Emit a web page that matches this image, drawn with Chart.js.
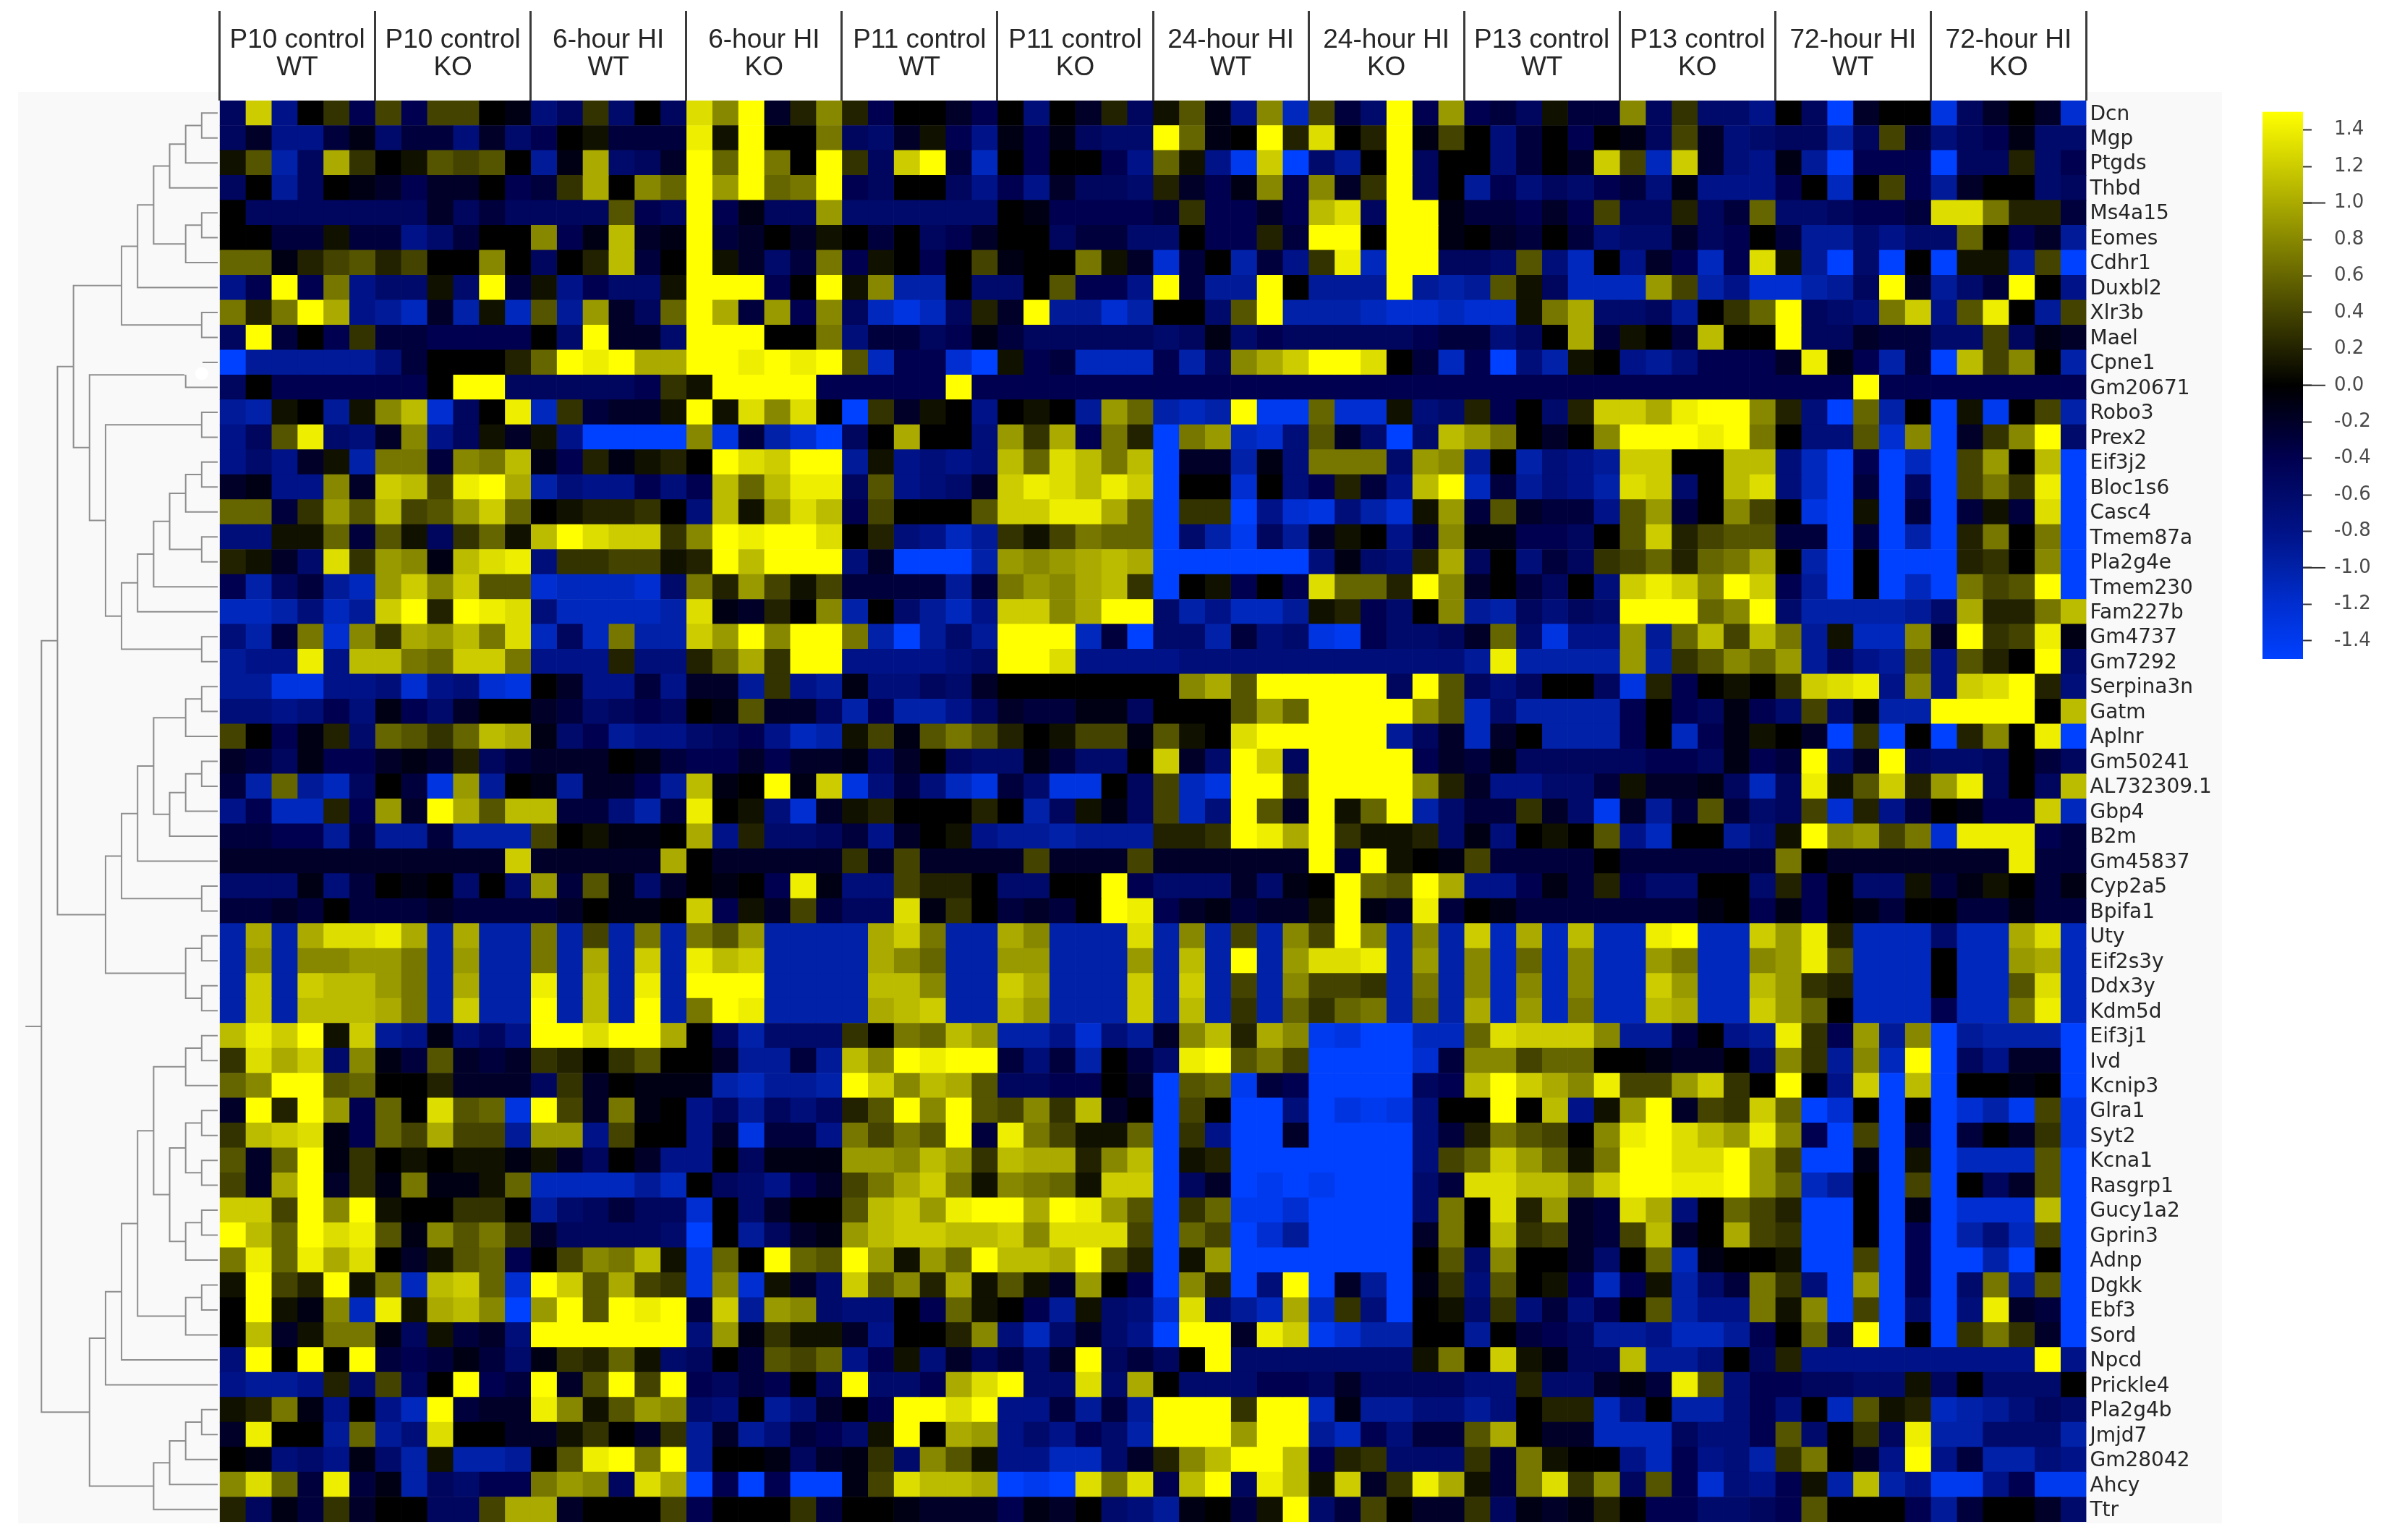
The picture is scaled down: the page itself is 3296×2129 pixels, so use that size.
<!DOCTYPE html>
<html>
<head>
<meta charset="utf-8">
<title>Heatmap</title>
<script src="https://cdn.jsdelivr.net/npm/chart.js@4"></script>
<style>
  html, body { margin: 0; background: #fff; }
  body { position: relative; width: 3296px; height: 2129px; overflow: hidden; }
  canvas, .box { position: absolute; }
  canvas { filter: blur(0.7px); }
  #panel { left: 25px; top: 127px; width: 3047px; height: 1979px; background: #f9f9f9; }
  #headerBack { left: 303px; top: 127px; width: 2582px; height: 12px; background: #fff; }
  #dendro { left: 0; top: 0; }
  #heat { left: 0; top: 0; }
  #scale { left: 3128px; top: 0; }
</style>
</head>
<body>
<div class="box" id="panel"></div>
<div class="box" id="headerBack"></div>
<canvas id="dendro" width="310" height="2129"></canvas>
<canvas id="heat" width="3296" height="2129"></canvas>
<canvas id="scale" width="168" height="1000"></canvas>
<script>
const groupNames = ['P10 control', 'P10 control', '6-hour HI', '6-hour HI', 'P11 control', 'P11 control', '24-hour HI', '24-hour HI', 'P13 control', 'P13 control', '72-hour HI', '72-hour HI'];
const groupTypes = ['WT', 'KO', 'WT', 'KO', 'WT', 'KO', 'WT', 'KO', 'WT', 'KO', 'WT', 'KO'];
const genes = ['Dcn', 'Mgp', 'Ptgds', 'Thbd', 'Ms4a15', 'Eomes', 'Cdhr1', 'Duxbl2', 'Xlr3b', 'Mael', 'Cpne1', 'Gm20671', 'Robo3', 'Prex2', 'Eif3j2', 'Bloc1s6', 'Casc4', 'Tmem87a', 'Pla2g4e', 'Tmem230', 'Fam227b', 'Gm4737', 'Gm7292', 'Serpina3n', 'Gatm', 'Aplnr', 'Gm50241', 'AL732309.1', 'Gbp4', 'B2m', 'Gm45837', 'Cyp2a5', 'Bpifa1', 'Uty', 'Eif2s3y', 'Ddx3y', 'Kdm5d', 'Eif3j1', 'Ivd', 'Kcnip3', 'Glra1', 'Syt2', 'Kcna1', 'Rasgrp1', 'Gucy1a2', 'Gprin3', 'Adnp', 'Dgkk', 'Ebf3', 'Sord', 'Npcd', 'Prickle4', 'Pla2g4b', 'Jmjd7', 'Gm28042', 'Ahcy', 'Ttr'];
const scaleTicks = [-1.4, -1.2, -1.0, -0.8, -0.6, -0.4, -0.2, 0, 0.2, 0.4, 0.6, 0.8, 1.0, 1.2, 1.4];
const scaleMajor = [-1.0, 0, 1.0];
const colourValues = [-1.5, -1.2, -1.0, -0.8, -0.6, -0.4, -0.2, 0, 1.5];
const colourRgb = [[0, 64, 255], [0, 46, 208], [0, 33, 168], [0, 18, 135], [0, 10, 106], [0, 0, 80], [0, 0, 40], [0, 0, 0], [255, 255, 0]];

// cell values, z-score x 10, one list per gene, 72 columns
const Dcn = [-5,12,-8,0,3,-4, 4,-4,4,4,0,-1, -7,-5,3,-6,0,-5, 13,8,15,-2,2,8, 2,-4,0,0,-2,-4, 0,-7,0,-2,2,-5, 1,5,-1,-8,8,-11, 4,-3,-6,15,-4,9, -4,-3,-5,1,-3,-3, 8,-5,3,-6,-6,-8, 0,-5,-15,-2,0,0, -13,-5,-2,0,-2,-12];
const Mgp = [-5,-2,-8,-8,-3,-1, -6,-3,-3,-7,-2,-6, -4,0,1,-3,-3,-3, 14,1,15,0,0,7, -5,-6,-2,1,-4,-8, -1,-4,-1,-5,-6,-6, 15,6,-1,0,15,2, 13,0,2,15,-1,4, 0,-7,-3,0,-4,0, -1,-5,4,-2,-7,-6, -5,-5,-10,-5,4,-3, -7,-5,-4,-1,-6,-6];
const Ptgds = [1,5,-10,-5,10,3, 0,1,5,4,5,0, -9,-1,10,-6,-5,-2, 15,6,15,7,0,15, 3,-5,12,15,-3,-11, 0,-4,0,0,-4,-8, 6,1,-8,-14,12,-15, -6,-9,0,15,-5,0, 0,-7,-3,0,-2,12, 4,-11,12,-2,-7,-8, -1,-9,-15,-4,-4,-4, -15,-5,-5,2,-6,-4];
const Thbd = [-5,0,-9,-5,0,-1, -2,-4,-2,-2,0,-4, -3,3,10,0,8,6, 15,9,15,6,7,15, -4,-5,0,0,-5,-8, -4,-8,-2,-5,-5,-6, 2,-2,-4,-1,8,-4, 8,-2,3,15,-5,0, -9,-4,-7,-5,-6,-4, -3,-7,-1,-8,-8,-8, -4,0,-11,0,4,-4, -9,-2,0,0,-6,-5];
const Ms4a15 = [0,-5,-5,-5,-5,-5, -5,-5,-2,-5,-3,-5, -5,-5,-5,5,-4,-5, 15,-4,-1,-5,-5,9, -6,-6,-6,-6,-6,-6, 0,-1,-4,-4,-4,-4, -3,3,-4,-4,-2,-4, 11,13,-5,15,15,-1, -3,-3,-4,-2,-4,4, -5,-5,2,-5,-3,6, -6,-6,-5,-4,-4,-3, 13,13,7,2,2,-3];
const Eomes = [0,0,-3,-3,1,-3, -3,-8,-6,-3,0,0, 8,-4,-1,11,-2,-1, 15,-3,-2,0,-2,1, 0,-3,0,-5,-4,-2, 0,0,-5,-3,-3,-6, -6,0,-4,-4,2,-3, 15,15,0,15,15,-1, 0,-2,-3,0,-3,-7, -6,-6,-2,-5,-4,0, -3,-9,-9,-6,-8,-6, -6,6,0,-4,-2,-9];
const Cdhr1 = [6,6,-1,2,4,5, 2,4,0,0,8,0, -5,0,2,11,-3,0, 15,1,-2,-6,-3,7, -4,1,0,-4,0,4, -1,0,0,7,1,-2, -12,-3,0,-10,-3,-8, 3,14,-11,15,15,-5, -5,-6,5,-7,-11,0, -8,-2,-4,-11,-4,13, 1,-9,-15,-6,-15,0, -15,1,1,-9,4,-15];
const Duxbl2 = [-8,-4,15,-4,7,-8, -6,-6,1,-6,15,-3, 1,-8,-4,-6,-6,1, 15,15,15,-4,0,15, 1,8,-10,-10,0,-6, -6,0,5,-4,-4,-8, 15,-3,-9,-9,15,0, -9,-9,-9,15,-9,-10, -9,5,1,-5,-11,-11, -11,9,4,-10,-8,-12, -12,-10,-9,-5,15,-2, -9,-6,-3,15,0,-8];
const Xlr3b = [7,2,7,15,10,-8, -9,-11,-2,-10,1,-11, 5,-9,9,-2,-5,6, 15,10,-3,9,-4,8, -5,-11,-13,-11,-5,2, -2,15,-9,-9,-12,-10, 0,0,-6,5,15,-10, -10,-10,-11,-12,-12,-11, -12,-12,1,7,10,-6, -6,-5,-9,0,3,6, 15,-5,-6,-7,7,12, -8,5,14,0,-9,4];
const Mael = [-5,15,-3,0,-4,3, -3,-3,-4,-4,-4,-4, 0,-6,15,-2,-2,-6, 15,15,15,0,0,7, -7,-3,-3,-5,-4,-1, -3,-5,-5,-5,-5,-5, -6,-5,-1,-6,-4,-5, -5,-5,-5,-5,-4,-3, -3,-7,-5,0,10,-3, 1,0,-3,11,0,0, 15,-5,-5,-2,-3,-3, -6,-6,4,-5,-1,-2];
const Cpne1 = [-15,-9,-9,-9,-9,-9, -7,-3,0,0,0,2, 6,15,14,15,10,10, 15,15,14,15,14,15, 5,-11,-4,-4,-12,-15, 1,-4,-3,-11,-11,-11, -4,-10,-5,8,10,12, 15,15,13,0,-3,-11, -4,-15,-7,-10,1,0, -8,-9,-7,-4,-4,-4, -2,14,-1,-4,-10,-3, -15,11,4,8,0,-10];
const Gm20671 = [-5,0,-4,-4,-4,-4, -4,-4,0,15,15,-5, -5,-5,-5,-5,-4,3, 1,15,15,15,15,-4, -4,-4,-4,-4,15,-4, -4,-4,-4,-4,-4,-4, -4,-4,-4,-4,-4,-4, -4,-4,-4,-4,-4,-4, -4,-4,-4,-4,-4,-4, -4,-4,-4,-4,-4,-4, -4,-4,-4,15,-4,-4, -4,-4,-4,-4,-4,-4];
const Robo3 = [-9,-10,1,0,-9,1, 8,11,-12,-5,0,14, -11,3,-3,-2,-2,1, 15,1,13,8,13,0, -15,3,-2,1,0,-8, 0,1,0,-9,9,6, -10,-11,-10,15,-14,-14, 6,-12,-12,1,-7,-6, 2,-4,0,-6,2,12, 12,10,14,15,15,8, 2,-7,-15,6,-10,0, -15,1,-14,0,4,-10];
const Prex2 = [-8,-5,5,14,-6,-7, -2,8,-8,-5,1,-2, 1,-8,-15,-15,-15,-15, 8,-13,-3,-10,-12,-15, -5,0,10,0,0,-7, 9,3,10,-4,7,2, -15,7,9,-11,-12,-7, 5,-2,-6,-15,-6,11, 9,7,0,-2,0,8, 15,15,15,14,15,7, 0,-7,-7,5,-12,8, -15,-2,3,8,15,-6];
const Eif3j2 = [-8,-6,-8,-2,1,-10, 7,7,-3,8,7,11, -1,-4,2,-1,1,2, 0,15,13,12,15,15, -9,1,-8,-7,-8,-7, 11,6,13,11,7,11, -15,-2,-2,-10,-1,-7, 7,7,7,-6,9,8, -9,0,-10,-7,-8,-9, 12,12,0,0,11,11, -7,-11,-15,-4,-15,-11, -15,4,9,0,11,-15];
const Bloc1s6 = [-2,-1,-8,-8,8,-2, 12,11,4,14,15,10, -10,-7,-8,-8,-4,-7, -4,11,6,11,14,14, -5,5,-8,-7,-6,-2, 12,14,13,11,14,12, -15,0,0,-12,0,-7, -4,2,-3,-8,11,15, -11,-3,-9,-7,-8,-10, 13,12,-6,0,11,13, -7,-11,-15,-3,-15,-5, -15,4,7,3,14,-15];
const Casc4 = [6,6,-3,3,9,5, 11,4,5,9,12,6, 0,1,2,2,3,0, -7,11,1,9,13,11, -4,4,0,0,0,5, 12,12,14,14,10,6, -15,3,3,-15,-8,-12, -13,-7,-10,-12,1,9, -3,5,-2,-3,-3,-8, 5,9,-3,0,8,4, 0,-13,-15,1,-15,-3, -15,-3,1,-3,13,-15];
const Tmem87a = [-7,-7,1,1,6,-3, 5,1,-5,3,6,1, 11,15,13,12,12,3, 8,15,14,15,15,13, 0,2,-7,-8,-11,-9, 3,1,4,7,6,6, -15,-6,-10,-14,-5,-9, -2,1,0,-8,-3,8, -1,-1,-4,-4,-5,0, 5,12,2,4,5,5, -3,-3,-15,-3,-15,-10, -15,2,7,0,7,-15];
const Pla2g4e = [2,1,-2,-6,13,3, 9,8,-1,11,13,14, -7,3,3,4,4,1, 2,15,11,15,15,15, -7,-2,-15,-15,-15,-10, 9,8,9,10,11,10, -15,-15,-15,-15,-15,-15, -7,-1,-6,-7,2,10, -5,0,-7,-3,-5,3, 4,6,2,6,7,10, 0,-10,-15,0,-15,-15, -15,2,3,0,8,-15];
const Tmem230 = [-4,-10,-5,-3,-9,-11, 9,12,8,12,5,5, -12,-11,-11,-11,-12,-6, 7,2,9,4,1,4, -3,-3,-3,-3,-9,-3, 7,9,8,10,11,3, -15,0,1,-4,0,-4, 13,6,6,2,15,8, -2,0,-3,-5,0,-7, 12,14,12,8,15,12, -4,-9,-15,0,-15,-11, -15,7,4,5,15,-15];
const Fam227b = [-11,-11,-10,-7,-11,-9, 12,15,2,15,14,13, -7,-11,-11,-11,-11,-10, 13,-1,-2,2,0,8, -10,0,-6,-9,-11,-8, 12,12,8,10,15,15, -6,-10,-8,-11,-11,-9, 1,2,-4,-6,0,8, -9,-10,-5,-7,-5,-6, 15,15,15,6,8,15, -6,-10,-10,-10,-10,-9, -6,10,2,2,7,11];
const Gm4737 = [-7,-10,-3,7,-12,8, 3,10,9,11,7,13, -11,-5,-11,7,-10,-10, 12,9,15,8,15,15, 7,-10,-15,-9,-6,-9, 15,15,15,-11,-3,-15, -6,-6,-10,-3,-7,-6, -13,-14,-4,-6,-6,-5, -2,6,-6,-13,-8,-8, 9,-9,6,11,4,11, 7,-9,1,-11,-11,8, -2,15,3,4,14,-1];
const Gm7292 = [-9,-8,-8,14,-8,11, 11,7,6,12,12,7, -8,-8,-8,2,-7,-7, 2,6,10,3,15,15, -8,-8,-8,-8,-7,-6, 15,15,13,-8,-8,-8, -8,-7,-7,-7,-7,-7, -7,-7,-7,-7,-7,-7, -9,14,-10,-10,-10,-10, 9,-10,3,5,8,6, 9,-9,-5,-8,-9,5, -8,5,2,0,15,-6];
const Serpina3n = [-9,-9,-13,-13,-8,-8, -7,-12,-8,-7,-12,-13, 0,-2,-8,-8,-3,-8, -2,-2,-9,3,-8,-9, -1,-7,-7,-5,-6,-2, 0,0,0,0,0,0, 0,8,10,5,15,15, 15,15,15,-5,15,5, -5,-7,-5,0,0,-5, -13,2,-4,0,1,0, 3,12,13,14,-8,8, -8,12,13,15,2,-7];
const Gatm = [-7,-7,-8,-7,-4,-7, -1,-4,-6,-2,0,0, -2,-3,-6,-5,-4,-5, 0,-1,5,-2,-2,-5, -10,-4,-10,-10,-8,-5, -2,-3,-3,-1,-1,-5, 0,0,0,5,9,6, 15,15,15,15,8,5, -11,-6,-10,-10,-10,-10, -4,0,-4,-5,-1,-4, -6,4,-6,-1,-10,-10, 15,15,15,15,0,11];
const Aplnr = [4,0,-4,-1,2,-6, 6,5,3,6,11,10, -1,-6,-4,-9,-8,-8, -6,-5,-4,-8,-11,-10, 1,4,-1,5,7,5, 2,0,1,4,4,-1, 5,1,0,13,15,15, 15,15,15,-9,-5,-2, -11,-2,0,-10,-10,-10, -4,0,-11,-4,-1,1, 0,-2,-15,3,-15,0, -15,2,8,0,14,-15];
const Gm50241 = [-2,-3,-5,-1,-4,-4, -2,-1,-2,2,-5,-3, -2,-2,-2,0,-1,-3, -4,-4,-2,-4,-2,-2, -1,-5,-2,0,-5,-6, -6,-1,-3,-6,-6,0, 12,-2,-6,15,12,-5, 15,15,15,15,-4,-2, -3,-1,-5,-5,-5,-5, -5,-4,-4,-5,-1,-4, -3,15,-6,-2,15,-5, -6,-6,-5,0,-3,-5];
const AL732309_1 = [-3,-10,6,-9,-11,-5, 0,-3,-13,9,-9,0, -1,-9,-2,-2,-4,-9, 11,-1,0,15,-1,12, -13,-7,-3,-7,-11,-13, -3,-6,-13,-13,0,-5, 4,-11,-13,15,15,4, 15,15,15,15,8,2, -2,-8,-8,-6,-6,-3, 1,-2,-2,-1,-5,-11, -5,14,1,5,12,2, 9,14,-5,0,-5,11];
const Gbp4 = [-8,-4,-11,-11,2,-4, 9,-2,15,10,5,11, 11,-3,-3,-7,-10,-3, 14,0,1,-7,-12,-2, 1,2,0,0,0,2, 0,-10,-5,1,-1,-5, 4,-11,-7,15,5,-2, 15,1,6,15,-10,-6, -3,-3,3,-2,-6,-14, -2,-9,-3,5,-3,-6, -5,4,-12,2,-8,-3, 0,-1,-4,-4,12,-11];
const B2m = [-3,-3,-4,-4,-9,-3, -9,-9,-3,-10,-10,-10, 4,0,1,-1,-1,0, 10,-8,2,-6,-6,-5, -3,-8,-2,0,1,-8, -9,-9,-10,-9,-9,-9, 2,2,3,15,14,10, 15,3,1,1,2,-6, -1,-7,0,1,0,5, -8,-11,0,0,-9,-7, 1,15,8,9,4,7, -12,14,14,14,-4,-3];
const Gm45837 = [-2,-2,-2,-2,-2,-2, -2,-2,-2,-2,-2,12, -2,-2,-2,-2,-2,10, 0,-2,-2,-2,-2,-2, 3,-2,4,-2,-2,-2, -2,4,-2,-2,-2,4, -2,-2,-2,-2,-2,-2, 15,-3,15,1,0,-1, 4,-3,-3,-3,-3,0, -3,-3,-3,-3,-3,-3, 7,0,-2,-2,-2,-2, -2,-2,-2,14,-3,-3];
const Cyp2a5 = [-6,-6,-6,-1,-7,-3, 0,-1,0,-6,0,-6, 9,-3,5,-1,-6,-2, 0,-1,0,-4,14,-1, -7,-7,4,2,2,0, -6,-6,0,0,15,-4, -6,-6,-6,-2,-6,-1, 0,15,6,5,15,10, -8,-8,-4,-1,-3,2, -4,-6,-6,0,0,-6, 2,-4,0,-6,-6,1, -3,-1,1,0,-3,-1];
const Bpifa1 = [-3,-3,-2,-3,0,-3, -3,-3,-2,-3,-3,-3, -3,-2,0,-1,-1,0, 12,-4,1,-2,4,-3, -5,-5,13,-1,3,0, -3,-2,-3,0,15,14, -4,-2,-1,-3,-2,-2, 1,15,-1,-2,14,-3, 0,-1,-3,-3,-3,-3, -3,-3,-3,-1,0,-4, -1,-4,0,-1,-3,0, 0,-3,-3,-1,-3,-3];
const Uty = [-10,10,-10,10,13,13, 14,10,-10,10,-10,-10, 7,-10,4,-10,7,-10, 7,5,9,-10,-10,-10, -10,10,12,7,-10,-10, 10,8,-10,-10,-10,13, -10,8,-10,4,-10,8, 4,15,8,-10,8,-10, 12,-11,10,-11,11,-11, -11,14,15,-11,-11,12, 9,14,2,-11,-11,-11, -6,-11,-11,10,13,-11];
const Eif2s3y = [-10,9,-10,8,8,9, 9,7,-10,9,-10,-10, 7,-10,10,-10,12,-10, 14,11,12,-10,-10,-10, -10,10,8,6,-10,-10, 9,9,-10,-10,-10,9, -10,11,-10,15,-10,9, 13,13,14,-10,9,-10, 8,-11,6,-11,8,-11, -11,9,7,-11,-11,8, 9,14,5,-11,-11,-11, 0,-11,-11,9,10,-11];
const Ddx3y = [-10,12,-10,12,11,11, 9,7,-10,10,-10,-10, 14,-10,11,-10,14,-10, 15,15,15,-10,-10,-10, -10,11,11,8,-10,-10, 12,10,-10,-10,-10,12, -10,12,-10,4,-10,8, 4,4,3,-10,7,-10, 8,-11,8,-11,8,-11, -11,12,9,-11,-11,11, 9,3,2,-11,-11,-11, 0,-11,-11,5,13,-11];
const Kdm5d = [-10,12,-10,11,11,11, 10,7,-10,12,-10,-10, 15,-10,11,-10,15,-10, 7,15,14,-10,-10,-10, -10,10,11,12,-10,-10, 11,9,-10,-10,-10,12, -10,11,-10,3,-10,6, 3,6,7,-10,6,-10, 10,-11,9,-11,7,-11, -11,11,10,-11,-11,12, 9,6,0,-11,-11,-11, -4,-11,-11,7,14,-11];
const Eif3j1 = [11,14,12,15,1,12, -9,-8,-1,-7,-5,-8, 15,15,13,15,15,10, 0,-5,-10,-6,-6,-6, 3,0,7,6,11,9, -10,-10,-8,-12,-7,-9, -2,8,11,2,10,8, -14,-13,-15,-15,-11,-11, 6,13,12,12,12,8, -9,-9,-3,0,-8,-9, 14,3,-4,9,-9,8, -15,-9,-10,-10,-10,-15];
const Ivd = [3,13,10,12,-6,8, -1,-3,5,-2,-3,-2, 3,2,0,3,5,0, 0,-2,-9,-9,-3,-9, 11,8,15,14,15,15, -3,-7,-3,-10,0,-3, -6,14,15,5,7,4, -15,-15,-15,-15,-12,-3, 8,8,4,6,6,0, 0,-1,-2,-2,0,-6, 8,3,-9,8,-11,15, -15,-5,-8,-2,-2,-15];
const Kcnip3 = [6,8,15,15,5,6, 0,0,2,-2,-2,-2, -5,3,-2,0,-1,-1, -1,-10,-11,-9,-9,-10, 15,12,8,11,10,5, -5,-5,-4,-4,0,-2, -15,5,6,-14,-3,-4, -15,-15,-15,-15,-5,-4, 11,15,12,10,8,14, 4,4,9,12,3,0, 15,0,-8,12,-15,11, -15,0,0,-1,0,-15];
const Glra1 = [-2,15,2,15,9,-4, 6,0,13,5,6,-13, 15,4,-2,7,-1,0, -8,-5,-9,-5,-7,-5, 2,5,15,8,15,5, 4,8,3,11,-2,0, -15,4,0,-15,-15,-7, -15,-13,-14,-13,-7,0, 0,15,0,11,-8,1, 9,15,-2,4,3,12, 6,-15,-12,0,-15,0, -15,-12,-10,-14,4,-13];
const Syt2 = [3,11,12,13,-1,-4, 6,4,10,4,4,-9, 9,9,-8,4,0,0, -8,-2,-13,-3,-3,-8, 7,4,7,5,15,-3, 14,7,4,1,1,6, -15,3,-8,-15,-15,-2, -15,-15,-15,-15,-7,-3, 2,7,5,4,0,8, 14,15,13,11,9,14, 8,-4,-15,4,-15,-2, -15,-3,0,-2,3,-13];
const Kcna1 = [5,-2,6,15,-1,3, 0,1,0,1,1,-1, 1,-2,-5,0,-2,-8, -8,0,-5,-1,-1,-1, 9,9,8,11,9,3, 11,10,10,2,8,11, -15,1,2,-15,-15,-15, -15,-15,-15,-15,-7,4, 6,12,9,6,1,7, 15,15,13,13,15,9, 4,-15,-15,-1,-15,1, -15,-11,-11,-11,5,-15];
const Rasgrp1 = [4,-2,10,15,-2,3, -1,7,-1,-1,1,6, -11,-11,-11,-11,-9,-11, 0,-5,-6,-8,-4,-2, 4,7,10,12,7,1, 8,7,6,1,12,12, -15,-5,-2,-15,-14,-15, -14,-15,-15,-15,-6,-3, 13,13,11,11,8,12, 15,15,14,14,15,9, 6,-11,-9,0,-15,4, -15,0,-5,-2,5,-15];
const Gucy1a2 = [12,12,4,15,8,15, 1,0,0,3,3,0, -9,-6,-5,-3,-5,-5, -12,0,-6,-2,0,0, 5,11,12,9,14,15, 15,10,15,14,9,5, -15,3,6,-14,-14,-12, -15,-15,-15,-15,-6,7, 0,13,2,9,-2,-3, 13,10,-7,0,6,4, 2,-15,-15,0,-15,-1, -15,-12,-12,-12,11,-15];
const Gprin3 = [15,11,6,15,13,14, 5,-1,8,5,7,3, -2,-5,-5,-5,-5,-6, -15,0,-9,-5,-2,-1, 9,11,12,12,11,11, 12,8,13,13,13,4, -15,6,4,-15,-12,-9, -15,-15,-15,-15,-2,7, 0,11,3,4,-2,-3, 4,11,-2,0,10,4, 3,-15,-15,0,-15,-4, -15,-10,-7,-11,4,-15];
const Adnp = [7,14,6,14,10,13, 0,-2,1,5,6,-4, 0,4,8,7,11,1, -13,6,0,15,6,5, 15,9,1,9,6,15, 11,11,10,15,5,2, -15,1,9,-15,-15,-15, -15,-15,-15,-15,0,5, -6,8,0,0,-2,-6, 0,6,-11,-1,0,0, 1,-15,-15,4,-15,-4, -15,-15,-10,-15,0,-15];
const Dgkk = [1,15,4,2,15,1, 7,-11,11,12,6,-12, 15,12,5,10,4,3, -13,8,-12,1,-2,-6, 12,5,8,2,10,1, 5,1,-2,9,0,-4, -15,8,2,-15,-7,15, -15,-2,-9,-15,-1,3, -7,5,0,1,-4,-11, -4,1,-10,-6,-3,7, 3,-7,-15,9,-15,-4, -15,-6,7,-9,5,-15];
const Ebf3 = [0,15,1,-1,8,-11, 14,1,10,11,8,-15, 9,15,5,15,14,15, -3,12,-9,9,8,-6, -7,-7,0,-4,6,1, 0,-4,-9,1,-6,-7, -12,13,-6,-9,-11,10, -11,3,-7,-15,0,1, -6,3,-7,-3,-7,-4, 0,5,-10,-8,-8,7, 1,8,-15,4,-15,-6, -15,-7,14,-2,-3,-15];
const Sord = [0,11,-2,1,7,7, -1,-5,1,-3,-2,-7, 15,15,15,15,15,15, -7,9,-1,3,1,1, -2,-8,0,0,2,8, -7,-11,-6,-2,-6,-8, -15,15,15,-2,14,12, -14,-12,-10,-10,0,0, -9,0,-3,-4,-5,-9, -9,-8,-11,-11,-9,-4, 0,6,-5,15,-15,0, -15,3,7,3,-2,-15];
const Npcd = [-7,15,0,15,0,15, -3,-4,-3,-1,-3,-6, -1,3,2,6,1,-6, -5,0,-3,5,4,6, -8,-4,1,-7,-2,-5, -3,-6,-2,15,-5,-3, -5,0,15,-6,-6,-6, -6,-6,-6,-6,1,7, 0,12,1,-1,-5,-5, 11,-9,-9,-7,0,-5, 2,-8,-8,-8,-8,-8, -8,-8,-8,-8,15,-8];
const Prickle4 = [-8,-9,-9,-8,2,-6, 4,-5,0,15,-4,-3, 15,-2,5,15,4,15, -4,-5,-3,-4,0,-5, 15,-6,-6,-4,10,13, 15,-6,-6,13,-6,10, 0,-6,-6,-6,-4,-4, -5,-2,-5,-5,-5,-5, -7,-7,2,-6,-6,-2, -1,-3,14,5,-7,-4, -4,-5,-5,-6,-6,1, -5,0,-6,-6,-6,0];
const Pla2g4b = [1,2,7,-1,-8,0, -8,-11,15,-3,-2,-2, 14,8,1,5,9,8, -6,-7,0,-9,-7,-2, 0,-4,15,15,13,15, -8,-8,-3,-9,-3,-9, 15,15,15,3,15,15, -11,-1,-9,-9,-7,-7, -9,-7,0,2,2,-11, -7,0,-10,-10,-7,-4, -7,0,-11,5,1,2, -11,-10,-9,-7,-5,-6];
const Jmjd7 = [-2,14,0,0,-9,6, -9,-7,13,0,0,-2, -2,1,3,0,-2,3, -9,-2,-9,-7,-3,-4, -6,1,15,0,10,9, -8,-6,-8,-4,-6,-10, 15,15,15,9,15,15, -9,-11,-4,-7,-3,-3, 5,10,0,-2,-2,-11, -11,-11,-5,-7,-7,-4, 5,-6,0,3,-5,14, -10,-10,-6,-6,-6,-10];
const Gm28042 = [0,-1,-7,-6,-8,-1, -6,-10,1,-10,-10,-9, 0,5,14,15,7,15, -9,0,0,-1,-5,-2, -1,3,-6,8,5,1, -8,-8,-11,-11,-6,-2, 2,8,11,15,15,11, -4,2,3,-6,-6,-6, 3,-3,7,1,0,0, -8,-11,-4,-8,-7,-10, 3,7,0,-2,-8,15, -8,-3,-10,-10,-7,-8];
const Ahcy = [8,13,6,-3,14,-3, -1,-10,-5,-6,-4,-4, 7,9,8,-5,13,10, -15,-4,-15,-4,-15,-15, -1,4,13,11,11,10, -15,-14,-15,13,7,13, -4,11,15,-5,14,11, 1,12,-2,3,14,10, 1,-3,7,13,3,8, -5,5,-4,-12,-7,-8, -4,1,-10,11,-10,-8, -14,-14,-8,-4,-14,-14];
const Ttr = [2,-5,-1,-3,3,-2, 0,0,-5,-5,4,10, 10,-2,0,0,0,4, -4,0,0,0,3,-3, 0,0,-1,-2,-2,-2, -4,-1,-2,0,-6,-7, -9,-1,0,-3,1,15, -6,-3,4,0,-2,-2, 3,-5,-1,-2,-1,2, 0,-4,-4,-6,-6,-5, -4,5,0,0,0,-4, -9,-3,0,0,-2,-6];

const rowValues = [Dcn, Mgp, Ptgds, Thbd, Ms4a15, Eomes, Cdhr1, Duxbl2, Xlr3b, Mael, Cpne1, Gm20671, Robo3, Prex2, Eif3j2, Bloc1s6, Casc4, Tmem87a, Pla2g4e, Tmem230, Fam227b, Gm4737, Gm7292, Serpina3n, Gatm, Aplnr, Gm50241, AL732309_1, Gbp4, B2m, Gm45837, Cyp2a5, Bpifa1, Uty, Eif2s3y, Ddx3y, Kdm5d, Eif3j1, Ivd, Kcnip3, Glra1, Syt2, Kcna1, Rasgrp1, Gucy1a2, Gprin3, Adnp, Dgkk, Ebf3, Sord, Npcd, Prickle4, Pla2g4b, Jmjd7, Gm28042, Ahcy, Ttr];

// gene tree: [height, upper child, lower child], a bare number is a row index
const clusterA = [6, [5, [4, [3, [2, [1, 0, 1], 2], 3], [2, [1, 4, 5], 6]], 7], [1, 8, 9]];
const clusterB = [8, [2, 10, 11], [7, [1, 12, 13], [6, [5, [4, [3, [2, [1, 14, 15], 16], [1, 17, 18]], 19], 20], [1, 21, 22]]]];
const clusterC = [7, [6, [5, [4, [2, [1, 23, 24], 25], [3, [2, [1, 26, 27], 28], 29]], 30], [1, 31, 32]], [2, [1, 33, 34], [1, 35, 36]]];
const clusterD = [5, [4, [2, [1, 37, 38], 39], [3, [2, [1, 40, 41], [1, 42, 43]], [2, [1, 44, 45], 46]]], [2, [1, 47, 48], 49]];
const clusterE = [8, [7, [6, clusterD, 50], 51], [4, [3, [2, [1, 52, 53], 54], 55], 56]];
const geneTree = [11, [10, [9, clusterA, clusterB], clusterC], clusterE];
const rootHeight = 12;
// the picture has a white smudge over part of the Cpne1 / Gm20671 bracket
const smudgeLine = [{ x: 2, y: 11 }, { x: 2, y: 10.5 }, { x: 0.95, y: 10.5 }];
const smudgeSpot = [{ x: 1, y: 10.95 }];

function colourRgbFor(v) {
  let i = 0;
  while (i < colourValues.length - 2 && v > colourValues[i + 1]) i++;
  const t = Math.min(1, Math.max(0, (v - colourValues[i]) / (colourValues[i + 1] - colourValues[i])));
  const c = colourRgb[i].map((a, k) => Math.round(a + (colourRgb[i + 1][k] - a) * t));
  return 'rgb(' + c.join(',') + ')';
}

// one horizontal floating bar per cell, one dataset per column
new Chart(document.getElementById('heat'), {
  type: 'bar',
  data: {
    labels: genes,
    datasets: rowValues[0].map((_, col) => ({
      data: genes.map(() => [col, col + 1]),
      backgroundColor: (ctx) => colourRgbFor(rowValues[ctx.dataIndex][col] / 10),
      barPercentage: 1,
      categoryPercentage: 1,
      grouped: false
    }))
  },
  options: {
    indexAxis: 'y',
    responsive: false,
    animation: false,
    layout: { padding: { left: 303.5, top: 0, right: 0, bottom: 25 } },
    scales: {
      x: {
        position: 'top',
        min: 0,
        max: 72,
        afterBuildTicks: (axis) => {
          axis.ticks = [];
          for (let v = 0; v <= 72; v += 3) axis.ticks.push({ value: v });
        },
        afterFit: (axis) => { axis.height = 139; },
        grid: {
          drawOnChartArea: false,
          drawTicks: true,
          tickLength: 124,
          tickWidth: 3,
          tickColor: (ctx) => (ctx.tick && ctx.tick.value % 6 === 0 ? '#3a3a3a' : 'rgba(0,0,0,0)')
        },
        border: { display: false },
        ticks: {
          autoSkip: false,
          maxRotation: 0,
          minRotation: 0,
          padding: -98,
          color: '#262626',
          font: { family: 'Liberation Sans', size: 37, lineHeight: 1.03 },
          callback: (v) => (v % 6 === 3 ? [groupNames[(v - 3) / 6], groupTypes[(v - 3) / 6]] : '')
        }
      },
      y: {
        position: 'right',
        afterFit: (axis) => { axis.width = 411.5; },
        grid: { display: false },
        border: { display: false },
        ticks: {
          autoSkip: false,
          padding: -3,
          labelOffset: 2,
          color: '#262626',
          font: { family: 'DejaVu Sans', size: 28 }
        }
      }
    },
    plugins: { legend: { display: false }, tooltip: { enabled: false } }
  }
});

// walk the tree, one bracket per merge
const rowCentre = (r) => r + 0.5;
const branchLines = [];
function walkTree(node) {
  if (typeof node === 'number') return { h: 0, y: rowCentre(node) };
  const upper = walkTree(node[1]);
  const lower = walkTree(node[2]);
  branchLines.push([
    { x: upper.h, y: upper.y },
    { x: node[0], y: upper.y },
    { x: node[0], y: lower.y },
    { x: lower.h, y: lower.y }
  ]);
  return { h: node[0], y: (upper.y + lower.y) / 2 };
}
const treeRoot = walkTree(geneTree);
branchLines.push([{ x: treeRoot.h, y: treeRoot.y }, { x: rootHeight, y: treeRoot.y }]);

new Chart(document.getElementById('dendro'), {
  type: 'scatter',
  data: {
    datasets: [
      // datasets draw last-first, so the smudge goes before the branches
      { data: smudgeSpot, pointRadius: 9, pointBackgroundColor: '#fff', pointBorderWidth: 0 },
      { data: smudgeLine, showLine: true, borderColor: '#f9f9f9', borderWidth: 4, pointRadius: 0 }
    ].concat(branchLines.map((line) => ({
      data: line,
      showLine: true,
      borderColor: '#8e8e8e',
      borderWidth: 2,
      pointRadius: 0,
      tension: 0
    })))
  },
  options: {
    responsive: false,
    animation: false,
    layout: { padding: { left: 13, top: 139, right: 7, bottom: 25 } },
    scales: {
      x: { display: false, reverse: true, min: 0, max: 13 },
      y: { display: false, reverse: true, min: 0, max: 57 }
    },
    plugins: { legend: { display: false }, tooltip: { enabled: false } }
  }
});

// colour key: one floating bar filled with the same colour ramp
const longTicks = {
  id: 'longTicks',
  afterDraw(chart) {
    const { ctx, scales, chartArea } = chart;
    ctx.save();
    ctx.strokeStyle = '#333';
    ctx.lineWidth = 2;
    scaleMajor.forEach((v) => {
      const y = scales.y.getPixelForValue(v);
      ctx.beginPath();
      ctx.moveTo(chartArea.right, y);
      ctx.lineTo(chartArea.right + 31, y);
      ctx.stroke();
    });
    ctx.restore();
  }
};

new Chart(document.getElementById('scale'), {
  type: 'bar',
  data: {
    labels: ['key'],
    datasets: [{
      data: [[-1.5, 1.5]],
      barPercentage: 1,
      categoryPercentage: 1,
      backgroundColor: (ctx) => {
        const area = ctx.chart.chartArea;
        if (!area) return '#000';
        const g = ctx.chart.ctx.createLinearGradient(0, area.bottom, 0, area.top);
        colourValues.forEach((v) => g.addColorStop((v + 1.5) / 3, colourRgbFor(v)));
        return g;
      }
    }]
  },
  plugins: [longTicks],
  options: {
    responsive: false,
    animation: false,
    layout: { padding: { left: 0, top: 154.5, right: 0, bottom: 89 } },
    scales: {
      x: { display: false },
      y: {
        position: 'right',
        min: -1.5,
        max: 1.5,
        afterBuildTicks: (axis) => { axis.ticks = scaleTicks.map((v) => ({ value: v })); },
        afterFit: (axis) => { axis.width = 112; },
        grid: { drawOnChartArea: false, drawTicks: true, tickLength: 12, tickColor: '#333', tickWidth: 2 },
        border: { display: false },
        ticks: {
          autoSkip: false,
          padding: 31,
          color: '#4a4a4a',
          font: { family: 'DejaVu Sans', size: 26 },
          callback: (v) => v.toFixed(1)
        }
      }
    },
    plugins: { legend: { display: false }, tooltip: { enabled: false } }
  }
});
</script>
</body>
</html>
